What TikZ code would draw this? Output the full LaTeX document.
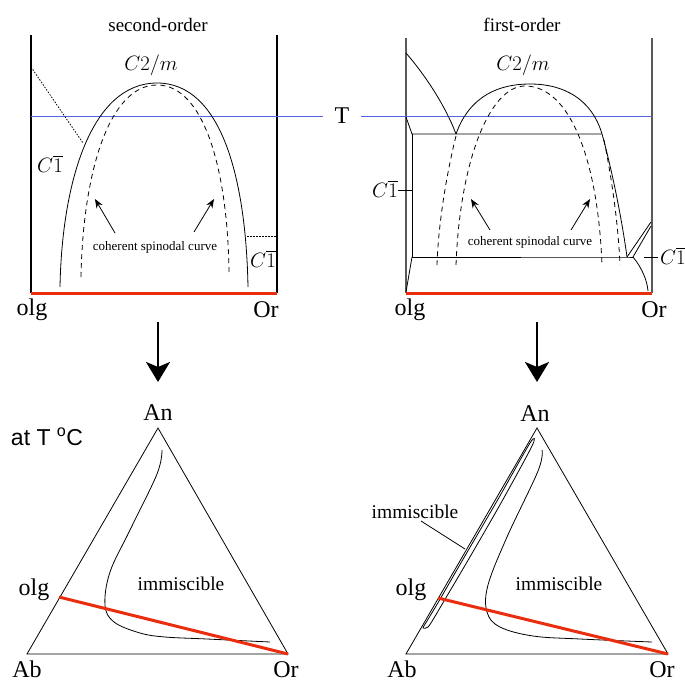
\documentclass[tikz,border=0pt]{standalone}
\usepackage[no-math]{fontspec}
\setmainfont{Liberation Serif}
\newfontfamily\sansf{Liberation Sans}
\usetikzlibrary{arrows.meta}
\definecolor{tline}{RGB}{85,100,225}
\definecolor{redl}{RGB}{235,45,15}
\newcommand{\cbar}{$C\overline{\vphantom{C}1}$}
\begin{document}
\begin{tikzpicture}[x=1pt,y=-1pt,
  wall/.style={line width=1.1pt,black},
  gwall/.style={line width=1.1pt,black!65},
  curve/.style={line width=0.8pt,black},
  dcurve/.style={line width=0.8pt,black,dash pattern=on 5pt off 4pt},
  dotline/.style={line width=0.8pt,black,dash pattern=on 1.5pt off 1.5pt},
  redline/.style={line width=3pt,redl},
  tl/.style={line width=0.9pt,tline},
  lab/.style={font=\fontsize{24}{28}\selectfont,inner sep=0pt},
  blab/.style={font=\fontsize{24}{28}\selectfont,inner sep=0pt,text depth=0pt,anchor=base},
  ttl/.style={font=\fontsize{19}{22}\selectfont,inner sep=0pt},
  mlab/.style={font=\fontsize{20}{24}\selectfont,inner sep=0pt},
  small/.style={font=\fontsize{13}{15}\selectfont,inner sep=0pt},
  imm/.style={font=\fontsize{19.5}{22}\selectfont,inner sep=0pt},
  parr/.style={line width=0.8pt,-{Stealth[length=9pt,width=7pt]}},
  darr/.style={line width=2.6pt,-{Stealth[length=20pt,width=24pt,inset=5pt]}}
]
\useasboundingbox (0,0) rectangle (685,682);

% ================= left panel (second-order) =================
\coordinate (LTL) at (31,35); \coordinate (LBL) at (31,293);
\coordinate (LTR) at (277,35); \coordinate (LBR) at (277,293);
\draw[wall] (LTL) -- (LBL);
\draw[wall] (LTR) -- (LBR);
\node[lab] (T) at (342,116) {T};
\coordinate (LT0) at (31,116); \coordinate (LT1) at (323,116);
\draw[tl] (LT0) -- (LT1);
\draw[dotline] (31,67) -- (83,143);
\draw[dotline] (247,236) -- (277,236);
\draw[curve] (60,287) .. controls (62,180) and (92,83) .. (157,83)
             .. controls (222,83) and (246,180) .. (248,287);
\draw[dcurve] (81,277) .. controls (83,170) and (110,85) .. (157,85)
              .. controls (204,85) and (228,170) .. (229,274);
\draw[redline] (LBL) -- (LBR);
\node[ttl] (so) at (158,25) {second-order};
\node[mlab] (c2l) at (151,65) {$C2/m$};
\node[mlab] (c1a) at (50,164) {\cbar};
\node[mlab] (c1b) at (263,259) {\cbar};
\node[small] (csl) at (155,247) {coherent spinodal curve};
\coordinate (la1) at (115,233); \coordinate (la2) at (95,199);
\coordinate (lb1) at (194,232); \coordinate (lb2) at (214,199);
\draw[parr] (la1) -- (la2);
\draw[parr] (lb1) -- (lb2);
\node[lab] (olg1) at (32,310) {olg};
\node[lab] (or1) at (266,310) {Or};

% ================= right panel (first-order) =================
\coordinate (RTL) at (406,38); \coordinate (RBL) at (406,293);
\coordinate (RTR) at (652,38); \coordinate (RBR) at (652,293);
\draw[gwall] (RTL) -- (RBL);
\draw[gwall] (RTR) -- (RBR);
\coordinate (RT0) at (361,116); \coordinate (RT1) at (652,116);
\draw[tl] (RT0) -- (RT1);
% curves
\draw[curve] (406,53) .. controls (425,75) and (445,105) .. (456,134);
\draw[curve] (456,134) .. controls (470,95) and (500,84) .. (530,84)
             .. controls (565,84) and (592,100) .. (602,134)
             .. controls (612,170) and (622,220) .. (627,257);
% rectangle
\draw[curve] (406,117) -- (412,134) -- (602,134);
\draw[curve] (412,134) -- (412,257) -- (627,257) -- (633,257);
\draw[curve] (412,257) -- (406,292);
\draw[curve] (627,257) -- (651,222);
\draw[curve] (633,257) -- (651,226);
\draw[curve] (633,257) .. controls (642,268) and (647,280) .. (648,291);
% dashed spinodals
\draw[dcurve] (456,136) .. controls (445,180) and (438,230) .. (437,265);
\draw[dcurve] (456,265) .. controls (460,160) and (490,86) .. (525,86)
              .. controls (570,86) and (598,160) .. (602,265);
\draw[dcurve] (604,140) .. controls (611,175) and (618,220) .. (620,265);
\draw[redline] (RBL) -- (RBR);
% labels
\node[ttl] (fo) at (522,25) {first-order};
\node[mlab] (c1c) at (385,189) {\cbar};
\node[mlab] (c2r) at (523,65) {$C2/m$};
\draw[curve] (c1c.east) ++(0,1) -- (412,190);
\node[mlab,anchor=west] (c1d) at (660,256) {\cbar};
\draw[curve] (644,257) -- (658,257);
\node[small] (csr) at (530,242) {coherent spinodal curve};
\coordinate (ra1) at (490,230); \coordinate (ra2) at (471,199);
\coordinate (rb1) at (571,230); \coordinate (rb2) at (590,199);
\draw[parr] (ra1) -- (ra2);
\draw[parr] (rb1) -- (rb2);
\node[lab] (olg2) at (410,310) {olg};
\node[lab] (or2) at (654,310) {Or};

% ================= down arrows =================
\coordinate (d1a) at (158,322); \coordinate (d1b) at (158,382);
\coordinate (d2a) at (537,322); \coordinate (d2b) at (537,382);
\draw[darr] (d1a) -- (d1b);
\draw[darr] (d2a) -- (d2b);

% ================= left triangle =================
\coordinate (Ab1) at (27,654); \coordinate (Or1) at (288,654); \coordinate (An1) at (158,428);
\draw[curve] (Ab1) -- (Or1) -- (An1) -- cycle;
\coordinate (ol1) at (59,597);
\draw[curve] plot[smooth,tension=0.6] coordinates {(162,450) (157,474) (130,530) (110,572) (105,605) (114,622) (140,633) (165,637) (207,639) (270,642)};
\draw[redline] (ol1) -- (Or1);
\node[lab] (tAn1) at (158,413) {An};
\node[blab] (tAb1) at (27,677) {Ab};
\node[blab] (tOr1) at (286,677) {Or};
\node[lab] (tol1) at (34,590) {olg};
\node[inner sep=0pt,font=\sansf\fontsize{23}{26}\selectfont] (atT) at (47,437) {at T \textsuperscript{o}C};
\node[imm] (im1) at (181,584) {immiscible};

% ================= right triangle =================
\coordinate (Ab2) at (406,654); \coordinate (Or2) at (668,654); \coordinate (An2) at (537,428);
\draw[curve] (Ab2) -- (Or2) -- (An2) -- cycle;
\coordinate (ol2) at (438,598);
\draw[curve] plot[smooth,tension=0.6] coordinates {(542,450) (538,471) (507,537) (488,585) (487,612) (500,627) (533,636) (580,639) (652,642)};
\draw[curve] plot[smooth cycle,tension=0.5] coordinates {(530,443) (497,501) (462,561) (439,601) (427,621) (423,628) (428,627) (434,618) (444,601) (467,562) (501,503) (532,446)};
\draw[redline] (ol2) -- (Or2);
\node[lab] (tAn2) at (535,414) {An};
\node[blab] (tAb2) at (402,677) {Ab};
\node[blab] (tOr2) at (662,677) {Or};
\node[lab] (tol2) at (411,590) {olg};
\node[imm] (im2) at (559,584) {immiscible};
\node[imm] (im3) at (415,512) {immiscible};
\coordinate (imp) at (465,549);
\draw[curve] (421,521) -- (imp);
\end{tikzpicture}
\end{document}
